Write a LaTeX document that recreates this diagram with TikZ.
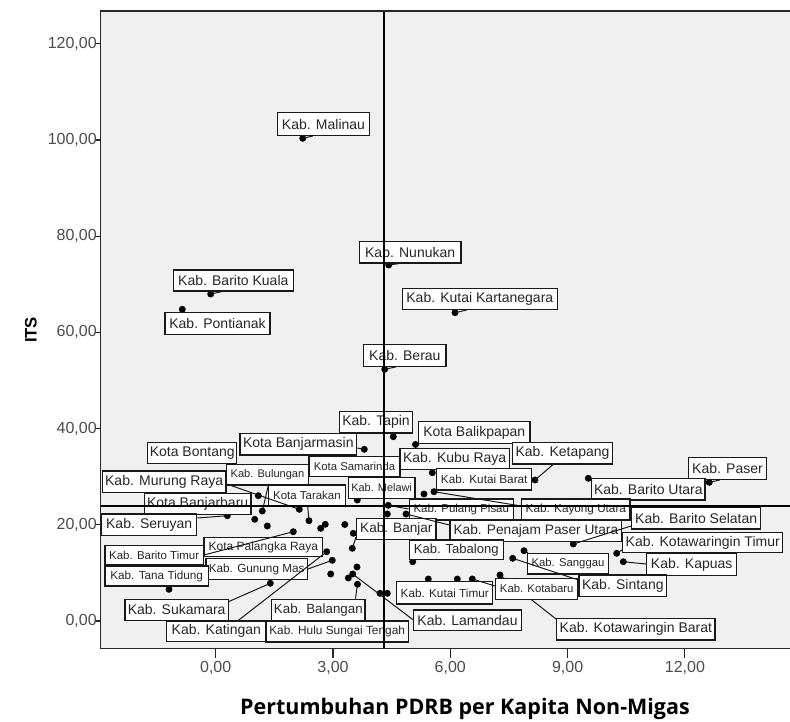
\documentclass[tikz,border=0pt]{standalone}
\usepackage{fontspec}
\setmainfont{Liberation Sans}
\newfontfamily\ttlfont{Open Sans}
\definecolor{plotbg}{HTML}{F0F0F0}
\newcommand\mklab[7]{%
  \node[labst, font=\fontsize{#6}{#6}\selectfont,
        minimum width={(#4-#2)*0.75pt}, minimum height={(#5-#3)*0.75pt}]
        (#1) at ({(#2+#4)/2},{(#3+#5)/2}) {#7};}
\begin{document}
\begin{tikzpicture}[x=0.75pt,y=-0.75pt,
  pt/.style={circle,fill=black,inner sep=0pt,minimum size=5.2pt},
  labst/.style={draw=black!90,fill=white,line width=0.9pt,inner sep=0pt,text=black!85},
  con/.style={line width=0.75pt,black!90},
  refl/.style={line width=0.9pt,black},
  frame/.style={line width=0.9pt,black!85},
  tickl/.style={font=\fontsize{12}{12}\selectfont,text=black!70,inner sep=0pt},
  tk/.style={line width=0.8pt,black!85}]
\useasboundingbox (0,0) rectangle (790,722);
\clip (0,0) rectangle (790,722);
\fill[white] (0,0) rectangle (790,722);
\fill[plotbg] (100.7,11) rectangle (800,648.3);

% points
\node[pt] (pMalinau) at (302.7,138.3) {};
\node[pt] (pNunukan) at (388.7,265) {};
\node[pt] (pBaritoKuala) at (210.7,294) {};
\node[pt] (pKutaiKart) at (455,312.7) {};
\node[pt] (pPontianak) at (182.3,309.3) {};
\node[pt] (pBerau) at (384.7,369.3) {};
\node[pt] (pTapin) at (393.3,436.7) {};
\node[pt] (pBalikpapan) at (415.5,444.5) {};
\node[pt] (pBanjarmasin) at (364.3,449.3) {};
\node[pt] (pKubuRaya) at (432.3,472.7) {};
\node[pt] (pKetapang) at (535,480) {};
\node[pt] (pBaritoUtara) at (588.3,478.3) {};
\node[pt] (pPaser) at (709.3,482.3) {};
\node[pt] (pKutaiBarat) at (424,494) {};
\node[pt] (pKayong) at (434,491.7) {};
\node[pt] (pMelawi) at (357.3,500) {};
\node[pt] (pPulangPisau) at (388.3,505.3) {};
\node[pt] (pA) at (387.3,514) {};
\node[pt] (pPenajam) at (406,514) {};
\node[pt] (pBulungan) at (262.3,511) {};
\node[pt] (pB) at (258.3,495.7) {};
\node[pt] (pBanjarbaru) at (254.7,519.3) {};
\node[pt] (pBontang) at (267.3,526) {};
\node[pt] (pMurung) at (299.3,509.3) {};
\node[pt] (pTarakan) at (309,520.7) {};
\node[pt] (pSeruyan) at (227.3,515.7) {};
\node[pt] (pBaritoTimur) at (293.3,531.7) {};
\node[pt] (pC) at (320.7,528.3) {};
\node[pt] (pD) at (325.3,524.3) {};
\node[pt] (pSamarinda) at (344.8,524.5) {};
\node[pt] (pE) at (353.3,533.3) {};
\node[pt] (pBanjar) at (352.3,548.3) {};
\node[pt] (pKatingan) at (326.7,551.7) {};
\node[pt] (pGunungMas) at (332.3,560.3) {};
\node[pt] (pF) at (330.7,574) {};
\node[pt] (pG) at (348.3,578) {};
\node[pt] (pLamandau) at (352.7,574) {};
\node[pt] (pH) at (357,567) {};
\node[pt] (pBalangan) at (357.5,584.2) {};
\node[pt] (pHulu) at (380,593.3) {};
\node[pt] (pI) at (387.3,593.3) {};
\node[pt] (pSukamara) at (270.3,583.3) {};
\node[pt] (pTanaTidung) at (169,589.3) {};
\node[pt] (pTabalong) at (412.7,561.7) {};
\node[pt] (pKutaiTimur) at (428.3,579) {};
\node[pt] (pJ) at (457.3,579) {};
\node[pt] (pKotabaru) at (472.3,579) {};
\node[pt] (pKotawBarat) at (500,575) {};
\node[pt] (pSanggau) at (524,550.7) {};
\node[pt] (pSintang) at (512.7,558.3) {};
\node[pt] (pBaritoSelatan) at (573.3,544) {};
\node[pt] (pKotawTimur) at (616.7,553.3) {};
\node[pt] (pKapuas) at (623.3,561.7) {};

% labels
\mklab{lMalinau}{277.7}{112.7}{369.3}{135.3}{10.5}{Kab. Malinau}
\mklab{lNunukan}{359.3}{241.5}{461}{263}{10.5}{Kab. Nunukan}
\mklab{lBaritoKuala}{173.3}{270}{293.3}{291}{10.5}{Kab. Barito Kuala}
\mklab{lPontianak}{165}{312.7}{270}{334.3}{10.5}{Kab. Pontianak}
\mklab{lKutaiKart}{402.3}{288.3}{557.3}{309.3}{10.5}{Kab. Kutai Kartanegara}
\mklab{lBerau}{363.7}{344.7}{446}{366.3}{10.5}{Kab. Berau}

% connectors under labels
\draw[con] (pKotawBarat.center) -- (556.7,619.5) coordinate (cKB);
\node[labst, font=\fontsize{10.5}{10.5}\selectfont, minimum width={158.3*0.75pt}, minimum height={21.7*0.75pt}] (lKotawBarat) at (635.85,629.15) {Kab. Kotawaringin Barat};
\draw[con] (pMalinau.center) -- (lMalinau.south -| 313,0);
\draw[con] (pNunukan.center) -- (lNunukan.south -| 399,0);
\draw[con] (pBaritoKuala.center) -- (lBaritoKuala.south -| 222,0);
\draw[con] (pKutaiKart.center) -- (lKutaiKart.south -| 467,0);
\draw[con] (pBerau.center) -- (lBerau.south -| 396,0);

\mklab{lTapin}{339.5}{411.5}{412.5}{433}{10.5}{Kab. Tapin}
\mklab{lBalikpapan}{418.5}{421.7}{530}{443.3}{10.5}{Kota Balikpapan}
\mklab{lBanjarmasin}{240}{433.5}{356.7}{455}{10.5}{Kota Banjarmasin}
\mklab{lBontang}{147.7}{442.5}{236.7}{463.5}{10.5}{Kota Bontang}
\mklab{lKetapang}{512.3}{442.7}{612.7}{464}{10.5}{Kab. Ketapang}
\mklab{lKubuRaya}{400}{448.3}{509.3}{469.5}{10.5}{Kab. Kubu Raya}
\mklab{lSamarinda}{309}{456.5}{400}{476.7}{8.5}{Kota Samarinda}
\mklab{lBulungan}{226.7}{464.3}{308.3}{485}{8.3}{Kab. Bulungan}
\mklab{lMurung}{102.3}{471}{226}{492.7}{10.5}{Kab. Murung Raya}
\mklab{lKutaiBarat}{436.7}{468.3}{531.7}{490}{8.8}{Kab. Kutai Barat}
\mklab{lPaser}{688.3}{457.3}{766.7}{479.3}{10.5}{Kab. Paser}
\mklab{lBaritoUtara}{591.7}{478.3}{705}{500}{10.5}{Kab. Barito Utara}
\mklab{lMelawi}{348.3}{477.3}{415}{498.3}{8.2}{Kab. Melawi}
\mklab{lTarakan}{268.3}{485}{345.5}{506}{8.6}{Kota Tarakan}
\mklab{lBanjarbaru}{144.3}{493.3}{251}{514.7}{10.5}{Kota Banjarbaru}
\mklab{lPulangPisau}{409.3}{499}{513.3}{520}{8.6}{Kab. Pulang Pisau}
\mklab{lKayong}{521.7}{499}{630}{520}{8.8}{Kab. Kayong Utara}
\mklab{lBaritoSelatan}{631.7}{507.3}{760.7}{529}{10.5}{Kab. Barito Selatan}
\mklab{lSeruyan}{101.7}{514}{196.7}{535.5}{10.5}{Kab. Seruyan}
\mklab{lBanjar}{356.7}{518.3}{436}{539.3}{10.2}{Kab. Banjar}
\mklab{lPenajam}{450}{520}{621.7}{541.5}{10.3}{Kab. Penajam Paser Utara}
\mklab{lKotawTimur}{622.7}{532.3}{782.7}{552.7}{10.5}{Kab. Kotawaringin Timur}
\mklab{lPalangka}{204}{537.3}{322.7}{556.5}{9}{Kota Palangka Raya}
\mklab{lTabalong}{409.3}{540}{503.3}{559.3}{9.8}{Kab. Tabalong}
\mklab{lBaritoTimur}{105}{545.7}{203.3}{564.5}{8.6}{Kab. Barito Timur}
\mklab{lSanggau}{527.7}{553.3}{608.3}{574}{8.5}{Kab. Sanggau}
\mklab{lKapuas}{646.7}{553.3}{736.7}{575.7}{10.5}{Kab. Kapuas}
\mklab{lGunungMas}{206}{558.5}{307.3}{579.5}{8.8}{Kab. Gunung Mas}
\mklab{lTanaTidung}{105}{566}{208.3}{586}{8.8}{Kab. Tana Tidung}
\mklab{lSintang}{579}{575}{666.7}{596.7}{10.5}{Kab. Sintang}
\mklab{lKotabaru}{495.7}{578.3}{577.7}{599.3}{8.5}{Kab. Kotabaru}
\mklab{lKutaiTimur}{396.7}{581.7}{492.7}{604}{8.8}{Kab. Kutai Timur}
\mklab{lSukamara}{125}{599.3}{228.3}{620.3}{10.5}{Kab. Sukamara}
\mklab{lBalangan}{271.7}{599.3}{365}{621}{10}{Kab. Balangan}
\mklab{lLamandau}{413.3}{610}{521.7}{630.7}{10.5}{Kab. Lamandau}
\mklab{lKatingan}{166.7}{621}{266}{641.7}{10.5}{Kab. Katingan}
\mklab{lHulu}{266}{621}{408.3}{642}{8.9}{Kab. Hulu Sungai Tengah}

% connectors
\draw[con] (pBanjarmasin.center) -- (lBanjarmasin.east |- 0,448);
\draw[con] (pKetapang.center) -- (lKetapang.south -| 553,0);
\draw[con] (pPaser.center) -- (lPaser.south -| 720,0);
\draw[con] (pTarakan.center) -- (lTarakan.south -| 307.7,0);
\draw[con] (pSeruyan.center) -- (lSeruyan.east |- 0,518);
\draw[con] (pGunungMas.center) -- (lGunungMas.east |- 0,569);
\draw[con] (pSukamara.center) -- (lSukamara.east |- 0,601.5);
\draw[con] (pBalangan.center) -- (lBalangan.north -| 355.5,0);
\draw[con] (pLamandau.center) -- (lLamandau.west |- 0,619.5);
\draw[con] (pKotabaru.center) -- (lKotabaru.west |- 0,586);
\draw[con] (pSanggau.center) -- (lSanggau.north -| 528,0);
\draw[con] (pKotawTimur.center) -- (lKotawTimur.west |- 0,550);
\draw[con] (pKapuas.center) -- (lKapuas.west |- 0,564);
\draw[con] (pPulangPisau.center) -- (lPulangPisau.west |- 0,509);
\draw[con] (pBanjar.center) -- (lBanjar.west |- 0,537);
\draw[con] (pBulungan.center) -- (lBulungan.south -| 268.3,0);
\draw[con] (pMurung.center) -- (lMurung.east |- 0,484);
\draw[con] (pBaritoTimur.center) -- (lBaritoTimur.east |- 0,555);
\draw[con] (pKatingan.center) -- (lKatingan.north -| 238.3,0);
\draw[con] (pSintang.center) -- (lSintang.west |- 0,580);
\draw[con] (pBaritoSelatan.center) -- (lBaritoSelatan.west |- 0,526);
\draw[con] (pKayong.center) -- (lKayong.west |- 0,506);
\draw[con] (pPenajam.center) -- (lPenajam.west |- 0,525);

% reference lines
\draw[refl] (384,11) -- (384,648.3);
\draw[refl] (100.7,506) -- (800,506);

% frame
\draw[frame] (800,11) -- (100.7,11) -- (100.7,648.3) -- (800,648.3);

% y ticks
\foreach \v/\t in {0/0,20/1,40/2,60/3,80/4,100/5,120/6}{
  \draw[tk] (95,{621-4.81*\v}) -- (100.7,{621-4.81*\v});
  \node[tickl,anchor=east] (ty\t) at (97,{621-4.81*\v}) {\v,00};
}
% x ticks
\foreach \v/\t in {0/0,3/1,6/2,9/3,12/4}{
  \draw[tk] ({215.7+39.1*\v},648.3) -- ({215.7+39.1*\v},657.5);
  \node[tickl] (tx\t) at ({215.7+39.1*\v},668) {\v,00};
}
% axis titles
\node[font=\fontsize{12.5}{12.5}\selectfont\bfseries,rotate=90,inner sep=0pt] (ytitle) at (31,330) {ITS};
\node[font=\ttlfont\fontsize{16.1}{16.1}\selectfont\bfseries,anchor=base,inner sep=0pt] (xtitle) at (465,714) {Pertumbuhan PDRB per Kapita Non-Migas};
\end{tikzpicture}
\end{document}
